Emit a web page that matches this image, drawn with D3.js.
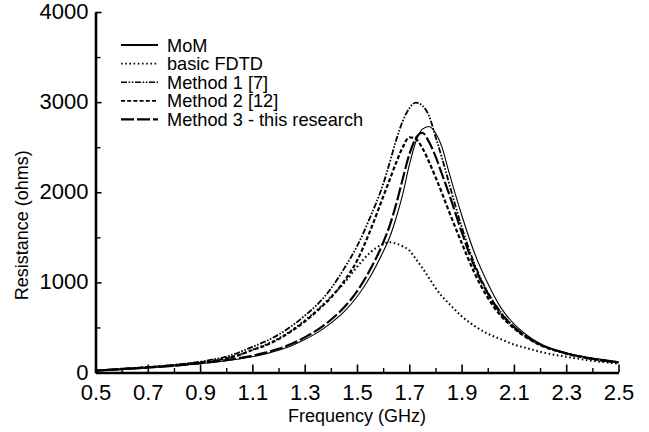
<!DOCTYPE html>
<html>
<head>
<meta charset="utf-8">
<script src="https://cdn.jsdelivr.net/npm/d3@7"></script>
<style>
  html, body { margin: 0; padding: 0; background: #fff; }
  svg { display: block; font-family: "Liberation Sans", Arial, Helvetica, sans-serif; }
</style>
</head>
<body>
<svg id="chart" width="649" height="432"></svg>
<script>
// Input resistance of the antenna versus frequency, five computation methods
const freq = [0.5, 0.6, 0.7, 0.8, 0.9, 0.95, 1.0, 1.05, 1.1, 1.15, 1.2, 1.25, 1.3, 1.35, 1.4, 1.45, 1.5, 1.55,
  1.6, 1.625, 1.65, 1.675, 1.7, 1.725, 1.75, 1.775, 1.8, 1.825, 1.85, 1.9, 1.95, 2.0, 2.05, 2.1, 2.15, 2.2, 2.3, 2.4, 2.5];

const momValues = [20, 35, 52, 73, 98, 113, 130, 150, 175, 207, 247, 298, 365, 445, 548, 672, 840, 1060,
  1340, 1500, 1720, 1980, 2300, 2560, 2700, 2730, 2660, 2500, 2240, 1750, 1320, 990, 720, 540, 415, 320, 215, 160, 120];

const fdtdValues = [22, 40, 58, 82, 113, 133, 160, 198, 252, 308, 378, 468, 578, 700, 840, 990, 1170, 1330,
  1425, 1445, 1430, 1400, 1355, 1260, 1160, 1050, 940, 845, 770, 625, 515, 430, 370, 310, 270, 230, 175, 130, 100];

const method1Values = [22, 42, 60, 85, 120, 145, 175, 225, 285, 345, 420, 515, 630, 760, 930, 1150, 1400, 1720,
  2090, 2330, 2580, 2790, 2930, 2995, 2960, 2850, 2620, 2380, 2120, 1620, 1200, 890, 670, 510, 400, 315, 215, 155, 115];

const method2Values = [20, 40, 57, 80, 110, 130, 155, 195, 250, 300, 370, 460, 565, 690, 830, 1010, 1240, 1570,
  1950, 2140, 2330, 2500, 2610, 2590, 2490, 2340, 2170, 1990, 1800, 1440, 1100, 830, 630, 490, 385, 305, 210, 150, 110];

const method3Values = [20, 36, 54, 76, 103, 118, 138, 160, 186, 220, 263, 318, 390, 475, 585, 720, 900, 1140,
  1440, 1630, 1870, 2150, 2420, 2600, 2660, 2560, 2400, 2200, 2000, 1560, 1170, 880, 655, 505, 392, 312, 212, 150, 110];

const seriesNames = ["MoM", "basic FDTD", "Method 1 [7]", "Method 2 [12]", "Method 3 - this research"];

const xMajorTicks = [0.5, 0.7, 0.9, 1.1, 1.3, 1.5, 1.7, 1.9, 2.1, 2.3, 2.5];
const xTickLabels = ["0.5", "0.7", "0.9", "1.1", "1.3", "1.5", "1.7", "1.9", "2.1", "2.3", "2.5"];
const xMinorTicks = [0.6, 0.8, 1.0, 1.2, 1.4, 1.6, 1.8, 2.0, 2.2, 2.4];
const yMajorTicks = [0, 1000, 2000, 3000, 4000];
const yTickLabels = ["0", "1000", "2000", "3000", "4000"];
const yMinorTicks = [500, 1500, 2500, 3500];

const svg = d3.select("#chart");
const plotLeft = 95.5, plotRight = 618.5, plotTop = 12, plotBottom = 372.5;

const x = d3.scaleLinear().domain([0.5, 2.5]).range([plotLeft, plotRight]);
const y = d3.scaleLinear().domain([0, 4000]).range([plotBottom, plotTop]);

// line styles per series
const styles = [
  { values: momValues,     width: 1.1, dash: null,                    legendWidth: 2 },
  { values: fdtdValues,    width: 2,   dash: "1.6,2.6",               legendWidth: 1.6 },
  { values: method1Values, width: 1.8, dash: "6,1.6,1.6,1.6,1.6,1.6", legendWidth: 1.6 },
  { values: method2Values, width: 2.2, dash: "4,2.2",                 legendWidth: 1.8 },
  { values: method3Values, width: 2.2, dash: "13,3",                  legendWidth: 2.4 }
];

const line = d3.line()
  .x((d, i) => x(freq[i]))
  .y(d => y(d))
  .curve(d3.curveMonotoneX);

const plot = svg.append("g");
styles.forEach(s => {
  plot.append("path")
    .datum(s.values)
    .attr("d", line)
    .attr("fill", "none")
    .attr("stroke", "#000")
    .attr("stroke-width", s.width)
    .attr("stroke-dasharray", s.dash)
    .attr("stroke-linejoin", "round");
});

// x axis: major ticks with labels, minor ticks without, all pointing inward
const xAxisMajor = d3.axisBottom(x)
  .tickValues(xMajorTicks)
  .tickFormat((d, i) => xTickLabels[i])
  .tickSizeInner(-8)
  .tickSizeOuter(0)
  .tickPadding(11.5);
const gx = svg.append("g").attr("transform", `translate(0,${plotBottom})`).call(xAxisMajor);
gx.select(".domain").attr("stroke-width", 2.6);
gx.selectAll(".tick line").attr("stroke-width", 1.6);
gx.selectAll(".tick text").attr("font-size", 22).attr("fill", "#000").attr("dy", "0.71em");

const xAxisMinor = d3.axisBottom(x).tickValues(xMinorTicks).tickFormat("").tickSizeInner(-4.5).tickSizeOuter(0);
const gxm = svg.append("g").attr("transform", `translate(0,${plotBottom})`).call(xAxisMinor);
gxm.select(".domain").remove();
gxm.selectAll(".tick line").attr("stroke-width", 1.4);

// y axis
const yAxisMajor = d3.axisLeft(y)
  .tickValues(yMajorTicks)
  .tickFormat((d, i) => yTickLabels[i])
  .tickSizeInner(-6)
  .tickSizeOuter(0)
  .tickPadding(7);
const gy = svg.append("g").attr("transform", `translate(${plotLeft},0)`).call(yAxisMajor);
gy.select(".domain").attr("stroke-width", 2.6);
gy.selectAll(".tick line").attr("stroke-width", 1.6);
gy.selectAll(".tick text").attr("font-size", 22).attr("fill", "#000").attr("dy", "0.3em");

const yAxisMinor = d3.axisLeft(y).tickValues(yMinorTicks).tickFormat("").tickSizeInner(-5).tickSizeOuter(0);
const gym = svg.append("g").attr("transform", `translate(${plotLeft},0)`).call(yAxisMinor);
gym.select(".domain").remove();
gym.selectAll(".tick line").attr("stroke-width", 1.4);

// axis titles
svg.append("text")
  .attr("x", (plotLeft + plotRight) / 2)
  .attr("y", 422)
  .attr("text-anchor", "middle")
  .attr("font-size", 18)
  .text("Frequency (GHz)");

svg.append("text")
  .attr("transform", `translate(28,${(plotTop + plotBottom) / 2 + 33}) rotate(-90)`)
  .attr("text-anchor", "middle")
  .attr("font-size", 18)
  .text("Resistance (ohms)");

// legend
const legend = svg.append("g").attr("transform", "translate(121,45)");
seriesNames.forEach((name, i) => {
  const s = styles[i];
  const row = legend.append("g").attr("transform", `translate(0,${i * 18.6})`);
  row.append("line")
    .attr("x1", 0).attr("x2", 37).attr("y1", 0).attr("y2", 0)
    .attr("stroke", "#000")
    .attr("stroke-width", s.legendWidth)
    .attr("stroke-dasharray", s.dash);
  row.append("text")
    .attr("x", 46).attr("y", 0)
    .attr("dy", "0.36em")
    .attr("font-size", 18.2)
    .text(name);
});
</script>
</body>
</html>
